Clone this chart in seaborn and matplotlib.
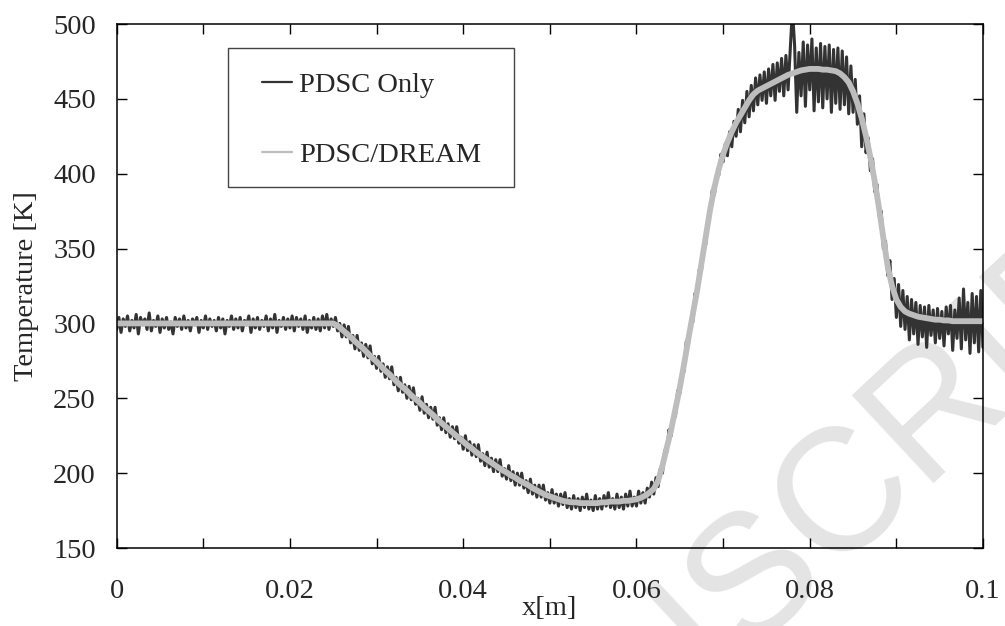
import numpy as np
import pandas as pd
import matplotlib
matplotlib.use('Agg')
import matplotlib.pyplot as plt
from matplotlib.patches import Rectangle
from matplotlib.ticker import MultipleLocator
import seaborn as sns

# PDSC only: noisy profile, one value every 0.25 mm from 0 to 100 mm
pdsc_only = [
    296,
    304, 294, 303, 298,  305, 295, 302, 297,  306, 293, 304, 299,  303, 296, 307, 295,
    302, 298, 305, 294,  303, 297, 304, 296,  301, 293, 304, 298,  303, 296, 305, 297,
    302, 295, 303, 299,  304, 294, 302, 297,  305, 296, 303, 298,  302, 295, 304, 297,
    303, 293, 302, 298,  305, 296, 303, 297,  304, 295, 302, 299,  305, 294, 303, 297,
    304, 296, 302, 298,  305, 295, 303, 297,  306, 294, 302, 298,  304, 296, 303, 297,
    305, 295, 304, 298,  303, 296, 305, 294,  302, 297, 304, 296,  303, 295, 305, 297,
    306, 296, 303, 298,
    304, 295, 300, 291,  299, 291, 298, 287,  292, 283, 292, 282,  287, 278, 286, 277,
    285, 273, 278, 270,  278, 268, 273, 264,  271, 263, 271, 259,  264, 255, 264, 254,
    259, 250, 258, 249,  257, 246, 250, 242,  251, 240, 246, 237,  244, 236, 244, 232,
    237, 229, 237, 227,  233, 224, 231, 223,  231, 220, 224, 216,  225, 215, 221, 212,
    219, 211, 219, 208,  213, 205, 214, 204,  210, 201, 209, 201,  209, 198, 203, 196,
    205, 195, 201, 192,  200, 192, 200, 190,  195, 187, 196, 186,  192, 184, 192, 184,
    192, 182, 187, 180,  189, 180, 186, 178,  186, 179, 187, 177,  183, 176, 185, 177,
    183, 175, 184, 177,  186, 176, 182, 175,  185, 176, 183, 176,  185, 178, 187, 177,
    183, 176, 186, 177,  184, 176, 186, 178,  188, 178, 184, 178,  188, 180, 187, 180,
    190, 184, 194, 186,  197, 191, 203, 200,  215, 214, 229, 225,  238, 238, 255, 253,
    268, 268, 288, 286,  300, 301, 320, 318,  336, 335, 352, 353,  371, 373, 389, 386,
    400, 399, 413, 408,  420, 412, 428, 418,  435, 425, 443, 428,  449, 434, 455, 438,
    459, 442, 464, 446,  466, 449, 468, 447,  470, 452, 473, 449,  474, 455, 477, 452,
    479, 456, 483, 510,  486, 441, 481, 452,  488, 445, 486, 456,  490, 442, 484, 448,
    487, 444, 485, 450,  486, 441, 483, 447,  484, 443, 482, 446,  478, 440, 472, 441,
    463, 433, 452, 418,  440, 414, 424, 402,  410, 388, 393, 372,  375, 350, 355, 332,
    342, 316, 330, 304,  326, 298, 322, 296,  318, 289, 316, 293,  314, 286, 312, 291,
    311, 284, 312, 292,  309, 287, 310, 290,  308, 285, 311, 293,  312, 282, 309, 290,
    317, 283, 323, 289,  314, 280, 320, 287,  318, 281, 322, 284,
]

# PDSC/DREAM: smooth profile, one value every 0.5 mm from 0 to 100 mm
pdsc_dream = [300.0] * 51 + [
    298.5, 296, 293.5, 291, 288, 285.5, 283, 280, 277, 274.5,
    271.5, 268.5, 266, 263, 260, 257.5, 255, 252, 249.5, 247,
    244, 241.5, 239, 236, 233.5, 231, 228.5, 226, 223.5, 221,
    218.5, 216.5, 214, 212, 210, 208, 206, 204, 202, 200.5,
    198.5, 197, 195, 193.5, 192, 190, 188.5, 187, 185.5, 184.5,
    183.5, 182.5, 181.5, 181, 180.5, 180.5, 180, 180, 180, 180,
    180, 180.5, 180.5, 181, 181, 181, 181.5, 181.5, 182, 182.5,
    183.5, 185, 187, 189.5, 195, 205, 217, 229, 243, 257,
    273, 290, 306, 322, 340, 358, 376, 391, 403, 413,
    421, 428, 434, 439, 444, 449, 453, 455.5, 457, 458.5,
    460, 461.5, 463, 464.5, 466, 467, 468, 469, 469.5, 470,
    470, 470, 469.5, 469.5, 469, 468.5, 467, 464.5, 461, 455,
    447, 437, 425, 411, 395, 377, 357, 338, 325, 316,
    311, 308, 306.5, 305.5, 304.5, 304, 303.5, 303, 302.5, 302.5,
    302, 302, 301.5, 301.5, 301.5, 301.5, 301.5, 301.5, 301.5, 301.5,
]

xtick_values = [0, 0.02, 0.04, 0.06, 0.08, 0.1]
xtick_labels = ['0', '0.02', '0.04', '0.06', '0.08', '0.1']
ytick_values = [150, 200, 250, 300, 350, 400, 450, 500]

df_only = pd.DataFrame({'x': np.linspace(0, 0.1, len(pdsc_only)), 'T': pdsc_only})
df_dream = pd.DataFrame({'x': np.linspace(0, 0.1, len(pdsc_dream)), 'T': pdsc_dream})

sns.set_style('ticks')
plt.rcParams['font.family'] = ['Liberation Serif', 'DejaVu Serif']

dark = '#333333'
light = '#bdbdbd'

fig = plt.figure(figsize=(10.05, 6.26), dpi=100)
ax = fig.add_axes([116.7 / 1005, 1 - 548 / 626, 866.3 / 1005, 524 / 626])
ax.patch.set_alpha(0)

# faint watermark behind the axes
fig.text(1182 / 1005, 1 - 190 / 626, 'ACCEPTED MANUSCRIPT', family='Liberation Sans',
         fontsize=125, color='#e4e4e4', rotation=43, rotation_mode='anchor',
         ha='right', va='center', zorder=-5)

sns.lineplot(data=df_only, x='x', y='T', ax=ax, color=dark, linewidth=2.2,
             estimator=None, sort=False, label='PDSC Only')
sns.lineplot(data=df_dream, x='x', y='T', ax=ax, color=light, linewidth=4.2,
             estimator=None, sort=False, label='PDSC/DREAM')

ax.set_xlim(0, 0.1)
ax.set_ylim(150, 500)
ax.set_xticks(xtick_values, xtick_labels)
ax.set_yticks(ytick_values)
ax.xaxis.set_minor_locator(MultipleLocator(0.01))
ax.tick_params(which='both', direction='in', top=True, right=True, length=7,
               width=1.0, color='black')
ax.tick_params(axis='x', which='major', labelsize=20.5, pad=22)
ax.tick_params(axis='y', labelsize=20.5, pad=15)
for s in ax.spines.values():
    s.set_visible(True)
    s.set_linewidth(1.1)
    s.set_color('black')

ax.set_xlabel('x[m]', fontsize=20.5)
ax.xaxis.set_label_coords(0.5, -0.092)
ax.set_ylabel('Temperature [K]', fontsize=20.5)
ax.yaxis.set_label_coords(-0.09, 0.5)

# legend box
ax.add_patch(Rectangle((0.1288, 0.6895), 0.3298, 0.2641, transform=ax.transAxes,
                       facecolor='white', edgecolor='#444444', linewidth=1.0, zorder=4))
leg = ax.legend(loc='center left', bbox_to_anchor=(0.1674, 0.816), frameon=False,
                fontsize=20.5, handlelength=1.08, handletextpad=0.22,
                labelspacing=1.55, borderpad=0, borderaxespad=0)
leg.set_zorder(5)
for h in leg.get_lines():
    h.set_linewidth(1.6)

fig.savefig('out.png', dpi=100)
